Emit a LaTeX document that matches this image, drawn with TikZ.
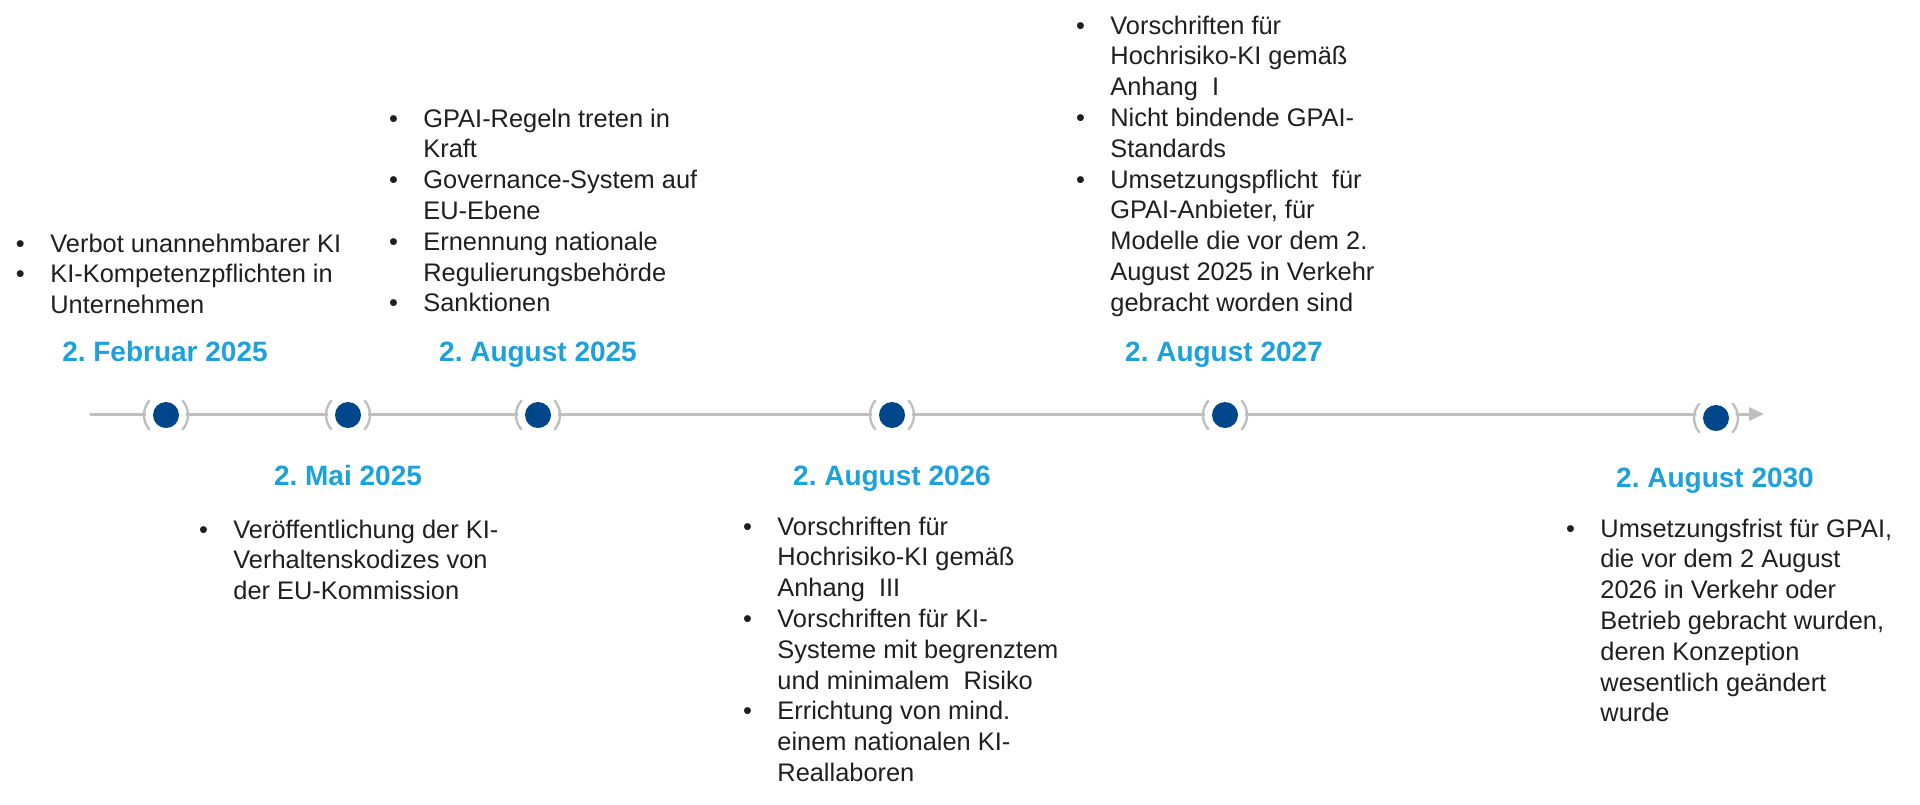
\documentclass[tikz,border=0pt]{standalone}
\usepackage{fontspec}
\setmainfont{Liberation Sans}
\usetikzlibrary{arrows.meta}
\frenchspacing
\definecolor{dateblue}{HTML}{1BA1DB}
\definecolor{dotblue}{HTML}{00468B}
\definecolor{linegray}{HTML}{BFBFBF}
\newcommand\bul{\llap{\makebox[17.2pt][l]{•}}}
\newcommand\blk[1]{\vtop{\baselineskip=15.4pt #1}}
\newcommand\li[1]{\hbox{#1}}
\newcommand\bl[1]{\hbox{\bul#1}}
\tikzset{
  txt/.style={inner sep=0pt, anchor=base west, font=\fontsize{12.7pt}{15.4pt}\selectfont, text=black!88},
  datelbl/.style={inner sep=0pt, anchor=base, font=\fontsize{14pt}{16pt}\selectfont\bfseries, text=dateblue},
  mk/.style={circle, fill=white, minimum size=20pt, inner sep=0pt,
    path picture={\fill[dotblue] (path picture bounding box.center) circle (6.5pt);}},
  paren/.style={draw=linegray, line width=1.2pt},
  tl/.style={draw=linegray, line width=1.5pt},
}
\begin{document}
\begin{tikzpicture}[x=0.5pt,y=-0.5pt]
\useasboundingbox (0,0) rectangle (1920,804);
% timeline
\coordinate (ls) at (90,414);
\coordinate (le) at (1764,414);
\draw[tl, -{Triangle[length=7.5pt,width=6.5pt]}] (ls) -- (le);
% markers
\node[mk] (m1) at (166,415) {};
\node[mk] (m2) at (348,415) {};
\node[mk] (m3) at (538,415) {};
\node[mk] (m4) at (892,415) {};
\node[mk] (m5) at (1225,415) {};
\node[mk] (m6) at (1716,418) {};
\foreach \m in {m1,m2,m3,m4,m5,m6}{
  \draw[paren] (\m.center) ++(138:11pt) arc[start angle=138,end angle=222,radius=11pt];
  \draw[paren] (\m.center) ++(-42:11pt) arc[start angle=-42,end angle=42,radius=11pt];
}
% dates
\node[datelbl] (d1) at (165,361) {2. Februar 2025};
\node[datelbl] (d2) at (348,485) {2. Mai 2025};
\node[datelbl] (d3) at (538,361) {2. August 2025};
\node[datelbl] (d4) at (892,485) {2. August 2026};
\node[datelbl] (d5) at (1224,361) {2. August 2027};
\node[datelbl] (d6) at (1715,487) {2. August 2030};
% texts
\node[txt] (t1) at (50,252) {\blk{%
  \bl{Verbot unannehmbarer KI}%
  \bl{KI-Kompetenzpflichten in}%
  \li{Unternehmen}}};
\node[txt] (t2) at (233,538) {\blk{%
  \bl{Veröffentlichung der KI-}%
  \li{Verhaltenskodizes von}%
  \li{der EU-Kommission}}};
\node[txt] (t3) at (423,127) {\blk{%
  \bl{GPAI-Regeln treten in}%
  \li{Kraft}%
  \bl{Governance-System auf}%
  \li{EU-Ebene}%
  \bl{Ernennung nationale}%
  \li{Regulierungsbehörde}%
  \bl{Sanktionen}}};
\node[txt] (t4) at (777,535) {\blk{%
  \bl{Vorschriften für}%
  \li{Hochrisiko-KI gemäß}%
  \li{Anhang\ \ III}%
  \bl{Vorschriften für KI-}%
  \li{Systeme mit begrenztem}%
  \li{und minimalem\ \ Risiko}%
  \bl{Errichtung von mind.}%
  \li{einem nationalen KI-}%
  \li{Reallaboren}}};
\node[txt] (t5) at (1110,34) {\blk{%
  \bl{Vorschriften für}%
  \li{Hochrisiko-KI gemäß}%
  \li{Anhang\ \ I}%
  \bl{Nicht bindende GPAI-}%
  \li{Standards}%
  \bl{Umsetzungspflicht\ \ für}%
  \li{GPAI-Anbieter, für}%
  \li{Modelle die vor dem 2.}%
  \li{August 2025 in Verkehr}%
  \li{gebracht worden sind}}};
\node[txt] (t6) at (1600,537) {\blk{%
  \bl{Umsetzungsfrist für GPAI,}%
  \li{die vor dem 2 August}%
  \li{2026 in Verkehr oder}%
  \li{Betrieb gebracht wurden,}%
  \li{deren Konzeption}%
  \li{wesentlich geändert}%
  \li{wurde}}};
\end{tikzpicture}
\end{document}
